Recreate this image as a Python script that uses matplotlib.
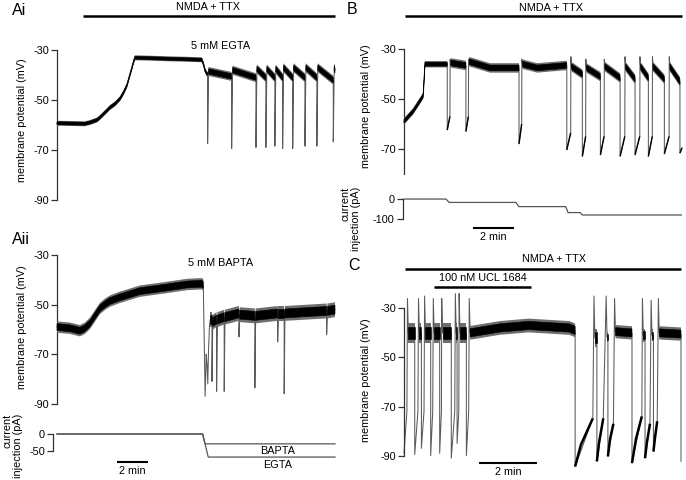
import numpy as np
import matplotlib
matplotlib.use("Agg")
import matplotlib.pyplot as plt

plt.rcParams['font.family'] = ['Liberation Sans', 'DejaVu Sans']
plt.rcParams['axes.unicode_minus'] = False

# ---------------- data (time in min, potential in mV, current in pA) ----------------
# Panel Ai (5 mM EGTA)
ai_head_t = [0, 1.81, 2.13, 2.58, 2.77, 3.1, 3.42, 3.75, 4.06, 4.3, 4.52, 4.7, 4.84, 4.95, 5.03, 9.35, 9.45, 9.55, 9.68]
ai_head_v = [-59.3, -59.5, -59, -58, -57, -55, -53, -51.5, -49.5, -47, -44, -40, -37, -34.5, -33, -33.8, -35.5, -38, -39.5]
ai_drop_t = [9.72, 11.27, 12.84, 13.48, 14.06, 14.56, 15.21, 16.0, 16.77, 17.83]
ai_low_v = [-67.5, -69.5, -69, -69, -68.5, -69.5, -69.5, -68.5, -68.5, -66.8]
ai_seg_v0 = [-38.5, -38, -37.5, -37.5, -37.5, -37, -37, -37, -37, -37]
ai_seg_v1 = [-40.5, -41, -41, -41, -41, -41, -41, -41, -42, -38]
ai_t_end = 17.94

# Panel Aii (5 mM BAPTA)
aii_head_t = [0, 0.84, 1.48, 1.8, 2.13, 2.45, 2.77, 3.1, 3.42, 4.06, 5.35, 7.1, 8.39, 9.35, 9.44,
              9.56, 9.63, 9.68, 9.73, 9.78, 9.83, 9.88]
aii_head_v = [-59, -59.5, -60.5, -59.5, -57.5, -54.5, -51.5, -49.8, -48.5, -47, -44.5, -43, -41.8, -41.5, -42,
              -87, -70, -74, -82, -68, -60, -56]
aii_head_w = [2.3, 2.3, 2.3, 2.3, 2.3, 2.3, 2.3, 2.3, 2.3, 2.3, 2.3, 2.3, 2.3, 2.3, 2.3,
              0, 0, 0, 0, 0, 0, 3]
aii_drop_t = [10.0, 10.3, 10.79, 11.74, 12.77, 14.24, 14.66, 17.4]
aii_low_v = [-81, -85, -85, -63, -83.6, -65, -86, -62]
aii_seg_v0 = [-57, -56, -55, -54, -54.5, -53.5, -53.5, -52.5]
aii_seg_v1 = [-56, -55, -53.5, -54.5, -53.5, -53.5, -52.5, -52]
aii_t_end = 17.94
aii_bapta_t = [0, 9.4, 9.55, 17.94]
aii_bapta_i = [0, 0, -29, -29]
aii_egta_t = [0, 9.4, 9.76, 17.94]
aii_egta_i = [0, 0, -68, -68]

# Panel B
b_head_t = [0, 0.44, 0.86, 0.94, 1.02]
b_head_v = [-59, -55, -49.7, -48.5, -36]
b_drop_t = [2.11, 3.02, 5.61, 7.94, 8.70, 9.58, 10.54, 11.27, 11.92, 12.70, 13.46]
b_low_v = [-62.4, -63, -68, -70.4, -73, -72.4, -73, -72.4, -73, -72, -71.7]
b_rise_t = [2.24, 3.14, 5.74, 8.13, 8.86, 9.76, 10.77, 11.50, 12.11, 12.93, 13.56]
b_rise_v = [-57, -57, -60, -63.6, -65, -65, -65, -65, -65, -65, -69.6]
b_peak_t = [2.25, 3.15, 5.75, 8.14, 8.87, 9.77, 10.78, 11.51, 12.12, 12.94]
b_peak_v = [-34, -34, -34, -33, -34, -34, -33, -33, -33, -33]
b_seg_v0 = [-35.5, -35, -36, -37, -37.5, -37, -37, -37, -37, -37]
b_seg_v1 = [-36.5, -37.5, -36.5, -40, -41, -41.5, -42, -41.5, -42, -43]
b_knot_seg = [1, 2]
b_knot_t = [4.2, 6.5]
b_knot_v = [-37.5, -37.5]
b_t_end = 13.56
b_cur_t = [0, 2.05, 2.2, 5.46, 5.6, 7.89, 8.0, 8.59, 8.7, 13.53]
b_cur_i = [0, 0, -17, -17, -38, -38, -68, -68, -80, -80]

# Panel C (100 nM UCL 1684)
c_head_t = [0.0]
c_head_v = [-89]
c_drop_t = [0.0, 0.37, 0.60, 0.92, 1.23, 1.63, 1.83, 2.15, 5.90, 6.65, 7.03, 7.86, 8.31, 8.60, 9.55]
c_low_v = [-89, -89.5, -87, -90, -89, -91, -85, -90, -94.4, -92.3, -90.3, -93, -91, -88.3, -92.3]
c_rise_t = [0.10, 0.48, 0.69, 0.99, 1.29, 1.75, 1.89, 2.23, 6.51, 6.87, 7.22, 8.20, 8.48, 8.73]
c_rise_v = [-72, -72, -72, -72, -72, -72, -72, -72, -74.8, -74.8, -77, -74, -77, -76]
c_peak_t = [0.12, 0.50, 0.71, 1.01, 1.30, 1.77, 1.90, 2.25, 6.55, 6.97, 7.26, 8.22, 8.52, 8.77]
c_peak_v = [-26, -26, -25, -26, -26, -24, -24, -26, -25, -25, -26, -26, -26.7, -26]
c_seg_v0 = [-40, -40, -40, -40, -40, -40, -40, -40, -42, -41.8, -39.5, -41, -41, -40]
c_seg_v1 = [-40, -40, -40, -40, -40, -40, -40, -39, -42, -41.8, -40, -41, -41, -40.5]
c_seg_w = [4, 4, 4, 4, 4, 4, 4, 2.8, 3.7, 2, 2.7, 2.7, 2.5, 2.7]
c_knot_seg = [7, 7, 7]
c_knot_t = [3.3, 4.3, 5.7]
c_knot_v = [-38, -37, -38]
c_ramp_mid_t = [6.10, 6.72, 7.10, 8.0, 8.37, 8.65]
c_ramp_mid_v = [-85.5, -85, -83.5, -83, -85, -83]
c_t_end = 9.55
c_yticks = [-30, -50, -70, -90]

# ---------------- helpers ----------------
W, H = 686, 480
fig = plt.figure(figsize=(W / 100, H / 100), dpi=100)
FS = 7.8


def build(head_t, head_v, head_w, drop_t, low_v, rise_t, rise_v, peak_t, peak_v,
          seg_v0, seg_v1, seg_w, t_end, gap, knot_seg=(), knot_t=(), knot_v=()):
    T, V = list(head_t), list(head_v)
    Wd = list(np.broadcast_to(np.asarray(head_w, float), (len(head_t),)))
    ramps = []
    for i, d in enumerate(drop_t):
        T.append(d); V.append(V[-1]); Wd.append(Wd[-1])
        T.append(d); V.append(low_v[i]); Wd.append(0)
        if i < len(rise_t):
            T.append(rise_t[i]); V.append(rise_v[i]); Wd.append(0)
            ramps.append(([d, rise_t[i]], [low_v[i], rise_v[i]]))
        if i < len(peak_t):
            T.append(peak_t[i]); V.append(peak_v[i]); Wd.append(0)
        if i < len(seg_v0):
            w = seg_w[i] if np.ndim(seg_w) else seg_w
            T.append(T[-1] + gap); V.append(seg_v0[i]); Wd.append(w)
            for s, kt, kv in zip(knot_seg, knot_t, knot_v):
                if s == i:
                    T.append(kt); V.append(kv); Wd.append(w)
            nxt = drop_t[i + 1] if i + 1 < len(drop_t) else t_end
            T.append(nxt); V.append(seg_v1[i]); Wd.append(w)
    return np.array(T), np.array(V), np.array(Wd), ramps


def draw_trace(ax, T, V, Wd, ramps, ramp_lw=0, ramp_min=0.0, mid_t=(), mid_v=()):
    ax.plot(T, V, color='#5a5a5a', lw=0.75, clip_on=False, zorder=2)
    band = Wd > 0
    ax.fill_between(T, V - Wd, V + Wd, where=band, color='#6e6e6e', lw=0,
                    clip_on=False, zorder=3)
    ax.fill_between(T, V - 0.6 * Wd, V + 0.6 * Wd, where=band, color='black', lw=0.4,
                    edgecolor='black', clip_on=False, zorder=4)
    if ramp_lw:
        k = 0
        for rt, rv in ramps:
            if rt[1] - rt[0] >= ramp_min:
                xs, ys = list(rt), list(rv)
                if k < len(mid_t):
                    xs.insert(1, mid_t[k]); ys.insert(1, mid_v[k])
                    k += 1
                ax.plot(xs, ys, color='black', lw=ramp_lw, clip_on=False, zorder=3,
                        solid_capstyle='butt')


def make_ax(x0, x1, ytop, ybot, yticks, outward=0, blank_top=False):
    ax = fig.add_axes([x0 / W, 1 - ybot / H, (x1 - x0) / W, (ybot - ytop) / H])
    for s in ['top', 'right', 'bottom']:
        ax.spines[s].set_visible(False)
    ax.spines['left'].set_color('#333333')
    ax.spines['left'].set_linewidth(0.9)
    if outward:
        ax.spines['left'].set_position(('outward', outward))
    ax.set_xticks([])
    ax.set_yticks(yticks)
    labels = [str(t) for t in yticks]
    if blank_top:
        labels[0] = ''
    ax.set_yticklabels(labels)
    ax.tick_params(axis='y', length=4.5, width=0.9, pad=1.2, labelsize=FS, color='#333333')
    ax.patch.set_alpha(0)
    return ax


def finish(ax, xlim, ylim):
    pad = 0.002 * (ylim[1] - ylim[0])
    ax.set_xlim(xlim)
    ax.set_ylim(ylim[0] - pad, ylim[1] + pad)
    ax.spines['left'].set_bounds(ylim[0], ylim[1])


def hbar(ax, t0, t1, yfrac, lw=1.8):
    ax.plot([t0, t1], [yfrac, yfrac], color='black', lw=lw, solid_capstyle='butt',
            transform=ax.get_xaxis_transform(), clip_on=False)


def label(ax, t, yfrac, s):
    ax.text(t, yfrac, s, transform=ax.get_xaxis_transform(), ha='center', va='center',
            fontsize=FS)


def ftext(x, y, s, **kw):
    fig.text(x / W, 1 - y / H, s, **kw)


# ---------------- Panel Ai ----------------
ax_ai = make_ax(57, 335, 50, 200, [-30, -50, -70, -90])
tr = build(ai_head_t, ai_head_v, 1.0, ai_drop_t, ai_low_v, [], [], [], [],
           ai_seg_v0, ai_seg_v1, 1.8, ai_t_end, 0.06)
draw_trace(ax_ai, *tr)
hbar(ax_ai, 1.68, ai_t_end, 1.227)
label(ax_ai, 9.74, 1.285, 'NMDA + TTX')
ax_ai.text(10.58, -28.4, '5 mM EGTA', ha='center', va='center', fontsize=FS)
finish(ax_ai, (0, ai_t_end), (-90, -30))

# ---------------- Panel Aii ----------------
ax_aii = make_ax(57, 335, 255, 404, [-30, -50, -70, -90])
tr = build(aii_head_t, aii_head_v, aii_head_w, aii_drop_t, aii_low_v, [], [], [], [],
           aii_seg_v0, aii_seg_v1, 3.0, aii_t_end, 0.05)
draw_trace(ax_aii, *tr)
ax_aii.text(10.58, -33.2, '5 mM BAPTA', ha='center', va='center', fontsize=FS)
finish(ax_aii, (0, aii_t_end), (-90, -30))

ax_aiic = make_ax(57, 335, 434, 451, [0, -50], outward=3)
ax_aiic.plot(aii_bapta_t, aii_bapta_i, color='#555555', lw=0.9, clip_on=False)
ax_aiic.plot(aii_egta_t, aii_egta_i, color='#555555', lw=0.9, clip_on=False)
ax_aiic.text(14.26, -50, 'BAPTA', ha='center', va='center', fontsize=FS)
ax_aiic.text(14.26, -91, 'EGTA', ha='center', va='center', fontsize=FS)
hbar(ax_aiic, 3.87, 5.87, -0.65, lw=1.5)
label(ax_aiic, 4.87, -1.18, '2 min')
finish(ax_aiic, (0, aii_t_end), (-50, 0))

# ---------------- Panel B ----------------
ax_b = make_ax(404, 682, 49, 174, [-30, -50, -70])
tr = build(b_head_t, b_head_v, 1.3, b_drop_t, b_low_v, b_rise_t, b_rise_v, b_peak_t, b_peak_v,
           b_seg_v0, b_seg_v1, 1.9, b_t_end, 0.03, b_knot_seg, b_knot_t, b_knot_v)
draw_trace(ax_b, *tr, ramp_lw=1.0, ramp_min=0.0)
hbar(ax_b, 0.05, b_t_end, 1.264)
label(ax_b, 7.17, 1.328, 'NMDA + TTX')
finish(ax_b, (0, b_t_end), (-80, -30))

ax_bc = make_ax(404, 682, 199, 219, [0, -100], outward=1)
ax_bc.plot(b_cur_t, b_cur_i, color='#555555', lw=0.9, clip_on=False)
hbar(ax_bc, 3.37, 5.37, -0.45, lw=1.5)
label(ax_bc, 4.37, -0.9, '2 min')
finish(ax_bc, (0, b_t_end), (-100, 0))

# ---------------- Panel C ----------------
ax_c = make_ax(404, 681, 308, 456, c_yticks, blank_top=True)
tr = build(c_head_t, c_head_v, 0, c_drop_t, c_low_v, c_rise_t, c_rise_v, c_peak_t, c_peak_v,
           c_seg_v0, c_seg_v1, c_seg_w, c_t_end, 0.03, c_knot_seg, c_knot_t, c_knot_v)
draw_trace(ax_c, *tr, ramp_lw=1.8, ramp_min=0.125, mid_t=c_ramp_mid_t, mid_v=c_ramp_mid_v)
hbar(ax_c, 0.03, c_t_end, 1.264)
label(ax_c, 5.17, 1.331, 'NMDA + TTX')
hbar(ax_c, 1.03, 4.38, 1.142)
label(ax_c, 2.72, 1.203, '100 nM UCL 1684')
hbar(ax_c, 2.59, 4.59, -0.047, lw=1.5)
label(ax_c, 3.59, -0.108, '2 min')
finish(ax_c, (0, c_t_end), (-90, -30))

# top tick label of C placed at figure level (drawn above every axes)
ftext(396, 308.5, str(c_yticks[0]), ha='right', va='center', fontsize=FS, zorder=50)

# ---------------- axis labels & panel letters ----------------
for (x, y) in [(22.5, 120), (22.5, 327), (366, 106), (366, 380)]:
    ftext(x, y, 'membrane potential (mV)', rotation=90, ha='center', va='center', fontsize=FS)
ftext(13, 445.5, 'current\ninjection (pA)', rotation=90, ha='center', va='center',
      fontsize=FS, multialignment='right', linespacing=1.1)
ftext(351, 219, 'current\ninjection (pA)', rotation=90, ha='center', va='center',
      fontsize=FS, multialignment='right', linespacing=1.1)

for (x, y, s) in [(12, 10.5, 'Ai'), (12, 239, 'Aii'), (347, 10, 'B'), (348, 266, 'C')]:
    ftext(x, y, s, ha='left', va='center', fontsize=11.5)

fig.savefig('out.png', dpi=100)
